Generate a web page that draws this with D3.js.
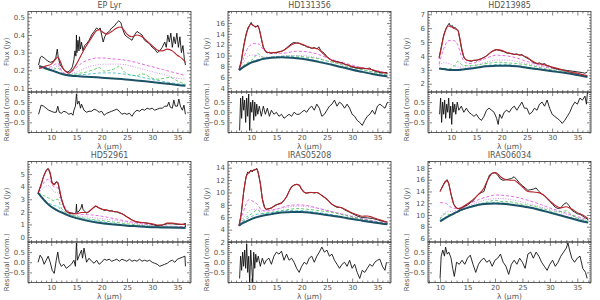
<!DOCTYPE html>
<html>
<head>
<meta charset="utf-8">
<script src="https://cdn.jsdelivr.net/npm/d3@7"></script>
<style>
body{margin:0;background:#fff}
svg text{font-family:"DejaVu Sans",sans-serif;fill:#555}
</style>
</head>
<body>
<svg id="chart" width="600" height="300"></svg>
<script>
// ---- shared axis data ----
const xTicks = [10, 15, 20, 25, 30, 35];
const resTicks = [-0.5, 0, 0.5];
const resDomain = [-1, 1];

// ---- EP Lyr ----
const epLyrObs = [[7.5,0.23],[7.8,0.27],[8.1,0.28],[8.6,0.27],[9.2,0.255],[9.8,0.245],[10.4,0.25],[10.9,0.27],[11.2,0.32],[11.4,0.27],[11.8,0.23],[12.3,0.21],[12.8,0.195],[13.3,0.19],[13.8,0.2],[14.2,0.22],[14.5,0.26],[14.7,0.31],[14.9,0.28],[15.0,0.40],[15.1,0.3],[15.3,0.37],[15.5,0.31],[15.6,0.39],[15.8,0.32],[16.0,0.36],[16.3,0.31],[16.6,0.34],[17.0,0.35],[17.5,0.37],[18.0,0.4],[18.5,0.42],[19.0,0.44],[19.4,0.43],[19.7,0.44],[20.0,0.40],[20.3,0.36],[20.6,0.39],[21.0,0.41],[21.5,0.42],[22.0,0.44],[22.5,0.45],[23.0,0.47],[23.4,0.48],[23.8,0.47],[24.2,0.43],[24.6,0.40],[25.0,0.39],[25.5,0.38],[26.0,0.37],[26.5,0.40],[27.0,0.42],[27.5,0.41],[28.0,0.40],[28.5,0.37],[29.0,0.36],[29.5,0.35],[30.0,0.33],[30.5,0.32],[31.0,0.30],[31.5,0.31],[32.0,0.33],[32.5,0.36],[32.8,0.33],[33.1,0.40],[33.4,0.36],[33.7,0.41],[34.0,0.33],[34.3,0.39],[34.6,0.35],[34.9,0.41],[35.2,0.33],[35.5,0.39],[35.8,0.30],[36.1,0.34],[36.4,0.26],[36.6,0.23]];
const epLyrModel = [[7.6,0.21],[8,0.215],[9,0.225],[10,0.235],[10.8,0.26],[11.3,0.275],[11.8,0.25],[12.3,0.215],[13,0.19],[13.5,0.185],[14,0.195],[15,0.235],[16,0.29],[17,0.34],[18,0.385],[19,0.425],[19.5,0.43],[20,0.42],[21,0.405],[22,0.42],[23,0.44],[23.7,0.445],[24.5,0.425],[25,0.405],[26,0.39],[27,0.4],[28,0.39],[29,0.365],[30,0.34],[31,0.315],[32,0.31],[33,0.32],[34,0.31],[35,0.285],[36,0.265],[36.6,0.245]];
const epLyrCont = [[7.6,0.225],[9,0.21],[10,0.2],[11,0.19],[12,0.18],[13,0.173],[14,0.169],[15,0.167],[17,0.164],[20,0.158],[23,0.152],[26,0.145],[29,0.136],[32,0.127],[35,0.117],[36.6,0.112]];
const epLyrCompA = [[7.6,0.21],[9,0.215],[10,0.22],[11.3,0.24],[12,0.2],[13,0.18],[14,0.19],[15,0.215],[16,0.24],[17,0.255],[18,0.265],[19,0.27],[20,0.27],[22,0.265],[24,0.26],[26,0.25],[28,0.235],[30,0.22],[32,0.205],[34,0.19],[36.6,0.17]];
const epLyrCompB = [[7.6,0.215],[9,0.21],[10,0.21],[11.3,0.225],[12,0.195],[13,0.175],[15,0.19],[17,0.215],[19,0.23],[21,0.235],[23,0.235],[25,0.23],[27,0.215],[29,0.2],[31,0.185],[33,0.17],[35,0.155],[36.6,0.15]];
const epLyrCompC = [[7.6,0.22],[10,0.2],[11.3,0.215],[12,0.185],[13,0.172],[14,0.175],[15,0.18],[16,0.185],[17,0.19],[18,0.2],[19,0.21],[19.5,0.215],[20.5,0.195],[21.5,0.2],[23,0.215],[23.5,0.225],[24.5,0.19],[25.5,0.175],[27,0.17],[28,0.18],[29,0.17],[30,0.155],[31,0.15],[32.5,0.155],[33.5,0.16],[35,0.14],[36.6,0.12]];
const epLyrCompD = [[7.6,0.22],[10,0.2],[12,0.18],[14,0.172],[16,0.175],[18,0.18],[20,0.185],[22,0.185],[24,0.18],[26,0.172],[28,0.16],[30,0.148],[32,0.138],[34,0.128],[36.6,0.118]];
const epLyrRes = [[7.5,-0.1],[8,0.35],[8.5,0.3],[9,0.2],[9.5,0.1],[10,0.05],[10.5,0.0],[11,0.0],[11.3,0.3],[11.6,0.0],[12,-0.05],[12.5,0.05],[13,0.0],[13.5,-0.1],[14,-0.05],[14.3,-0.15],[14.5,0.1],[14.8,0.3],[15,0.9],[15.2,0.4],[15.5,0.55],[15.8,0.2],[16,0.4],[16.5,0.1],[17,0.0],[17.5,0.05],[18,0.05],[18.5,0.15],[19,0.1],[19.5,0.0],[20,0.05],[20.5,-0.15],[21,-0.05],[21.5,0.0],[22,0.05],[22.5,0.1],[23,0.15],[23.5,0.05],[24,-0.1],[24.5,-0.05],[25,-0.1],[25.5,-0.05],[26,-0.2],[26.5,0.0],[27,0.1],[27.5,0.05],[28,0.15],[28.5,0.1],[29,0.2],[29.5,0.15],[30,0.2],[30.5,0.1],[31,0.15],[31.5,0.2],[32,0.2],[32.5,0.3],[33,0.3],[33.3,0.5],[33.6,0.25],[34,0.2],[34.3,0.6],[34.6,0.3],[35,0.3],[35.3,0.65],[35.6,0.3],[36,0.1],[36.3,0.35],[36.6,-0.1]];

// ---- HD131356 ----
const hd131Obs = [[7.6,7.4],[8,8.9],[8.5,11.8],[9,14.0],[9.4,15.2],[9.7,15.6],[10,16.1],[10.2,15.6],[10.5,15.5],[10.8,15.2],[11.1,15.4],[11.3,15.6],[11.6,14.9],[12,13.1],[12.4,11.5],[12.8,10.8],[13.2,10.5],[13.6,10.6],[14,10.4],[14.5,10.6],[15,10.5],[15.5,10.7],[16,10.8],[16.5,11.0],[17,11.4],[17.5,11.8],[18,12.2],[18.5,12.4],[19,12.3],[19.5,12.3],[20,12.0],[20.5,11.9],[21,11.6],[21.5,11.5],[22,11.3],[22.5,11.5],[23,11.2],[23.4,11.6],[23.8,10.9],[24.5,10.4],[25,9.8],[25.5,9.4],[26,9.1],[26.5,9.0],[27,8.9],[27.5,8.7],[28,8.7],[28.5,8.4],[29,8.3],[29.5,8.1],[30,7.9],[31,7.7],[32,7.6],[33,7.6],[33.5,7.7],[34,7.3],[35,7.0],[36,6.8],[36.5,6.9],[37,6.8]];
const hd131Model = [[7.6,7.5],[8,8.8],[8.5,11.5],[9,13.8],[9.5,15.2],[10,15.8],[10.5,15.5],[11,15.3],[11.3,15.4],[11.6,14.8],[12,13.2],[12.4,11.6],[12.8,10.9],[13.2,10.6],[14,10.5],[15,10.6],[16,10.8],[17,11.3],[18,12.0],[19,12.3],[20,12.1],[21,11.7],[22,11.4],[23,11.3],[24,10.6],[25,9.7],[26,9.1],[27,8.8],[28,8.6],[29,8.3],[30,8.0],[31,7.8],[32,7.7],[33,7.6],[34,7.4],[35,7.1],[36,6.9],[37,6.7]];
const hd131Cont = [[7.6,7.3],[8,7.6],[9,8.2],[10,8.7],[11,9.0],[12,9.3],[14,9.6],[16,9.7],[18,9.6],[20,9.4],[22,9.1],[24,8.7],[26,8.3],[28,7.85],[30,7.4],[32,7.0],[34,6.6],[36,6.3],[37,6.15]];
const hd131CompA = [[7.6,7.4],[8.5,9.6],[9.5,11.6],[10.5,12.2],[11.5,12.1],[12.3,11.2],[13,10.6],[14,10.4],[15,10.4],[17,10.5],[19,10.8],[21,10.7],[23,10.3],[25,9.6],[27,9.0],[29,8.5],[31,8.0],[33,7.6],[35,7.2],[37,6.8]];
const hd131CompB = [[7.6,7.4],[8.5,8.8],[9.5,10.0],[10.5,10.1],[11.5,9.9],[12.5,9.7],[14,9.8],[16,9.9],[18,10.0],[20,10.0],[22,9.8],[24,9.3],[26,8.8],[28,8.3],[30,7.8],[32,7.4],[34,7.0],[37,6.5]];
const hd131CompC = [[7.6,7.35],[8.5,8.2],[9.5,8.8],[10.5,9.5],[11.3,10.4],[12,9.8],[13,9.6],[15,9.8],[17,9.9],[19,9.9],[21,9.7],[23,9.5],[25,9.0],[27,8.6],[29,8.0],[31,7.6],[33,7.2],[35,6.8],[37,6.4]];
const hd131CompD = [[7.6,7.35],[9,8.3],[10,8.8],[12,9.4],[14,9.7],[16,9.8],[18,9.75],[20,9.55],[22,9.25],[24,8.85],[26,8.4],[28,7.95],[30,7.5],[32,7.1],[34,6.7],[37,6.2]];
const hd131Res = [[7.7,-0.9],[7.9,0.7],[8.1,-0.3],[8.3,0.8],[8.5,0.1],[8.7,0.6],[8.9,-0.5],[9.1,0.7],[9.3,-0.2],[9.5,0.9],[9.7,-0.9],[9.9,0.5],[10.1,0.0],[10.3,0.6],[10.5,-0.4],[10.7,0.5],[10.9,-0.2],[11.1,0.4],[11.3,-0.1],[11.6,0.3],[12,-0.2],[12.4,0.3],[12.8,-0.1],[13.2,0.2],[13.6,-0.2],[14,0.1],[14.5,-0.1],[15,0.0],[15.5,-0.2],[16,-0.1],[16.5,-0.3],[17,-0.2],[17.5,-0.1],[18,-0.2],[18.5,0.0],[19,-0.1],[19.5,-0.1],[20,0.0],[20.5,0.1],[21,0.0],[21.5,0.2],[22,0.3],[22.5,0.1],[23,0.4],[23.5,0.2],[24,-0.2],[24.5,-0.1],[25,0.1],[25.5,0.3],[26,0.4],[26.5,0.6],[27,0.3],[27.5,0.5],[28,0.4],[28.5,0.2],[29,0.4],[29.5,0.2],[30,-0.1],[30.5,-0.2],[31,-0.4],[31.5,-0.5],[32,-0.65],[32.5,-0.4],[33,-0.2],[33.5,-0.1],[34,0.1],[34.5,-0.1],[35,0.3],[35.5,0.4],[36,0.3],[36.5,0.2],[37,0.5]];

// ---- HD213985 ----
const hd213Obs = [[7.6,3.9],[8,4.6],[8.5,5.5],[9,6.0],[9.3,6.2],[9.6,6.35],[9.9,6.1],[10.2,6.2],[10.5,6.0],[10.8,6.05],[11.1,5.9],[11.4,5.8],[11.7,5.2],[12.1,4.4],[12.5,3.9],[13,3.7],[13.5,3.65],[14,3.6],[14.5,3.7],[15,3.65],[15.5,3.75],[16,3.8],[16.5,3.9],[17,4.0],[17.5,4.15],[18,4.3],[18.5,4.4],[19,4.45],[19.5,4.4],[20,4.35],[20.5,4.3],[21,4.2],[21.5,4.2],[22,4.15],[22.5,4.1],[23,4.15],[23.5,4.05],[24,4.1],[24.5,3.95],[25,3.85],[25.5,3.75],[26,3.6],[26.5,3.5],[27,3.45],[27.5,3.5],[28,3.4],[28.5,3.45],[29,3.3],[29.5,3.25],[30,3.15],[31,3.05],[32,3.0],[33,2.95],[34,2.9],[35,2.85],[36,2.8],[36.5,2.75],[37,2.85]];
const hd213Model = [[7.6,3.8],[8,4.5],[8.5,5.4],[9,5.95],[9.5,6.15],[10,6.1],[10.5,6.0],[11,5.9],[11.3,5.85],[11.7,5.3],[12.1,4.5],[12.5,3.95],[13,3.7],[14,3.65],[15,3.7],[16,3.8],[17,4.0],[18,4.3],[19,4.45],[20,4.4],[21,4.25],[22,4.15],[23,4.1],[24,4.05],[25,3.9],[26,3.65],[27,3.45],[28,3.4],[29,3.3],[30,3.2],[31,3.1],[32,3.0],[33,2.9],[34,2.8],[35,2.75],[36,2.65],[37,2.55]];
const hd213Cont = [[7.6,3.1],[8,3.08],[9,3.02],[10,2.98],[11,2.98],[12,3.0],[13,3.05],[15,3.15],[17,3.25],[19,3.3],[21,3.3],[23,3.25],[25,3.15],[27,3.05],[29,2.95],[31,2.85],[33,2.75],[35,2.62],[37,2.48]];
const hd213CompA = [[7.6,3.4],[8.5,4.5],[9.5,5.1],[10.5,5.1],[11.3,4.8],[12,4.0],[13,3.5],[14,3.45],[15,3.55],[17,3.85],[19,4.05],[21,4.0],[23,3.85],[25,3.6],[27,3.4],[29,3.2],[31,3.05],[33,2.9],[35,2.75],[37,2.6]];
const hd213CompB = [[7.6,3.3],[8.5,3.5],[9.5,3.45],[10.5,3.3],[11.5,3.2],[13,3.2],[15,3.35],[17,3.55],[19,3.7],[21,3.7],[23,3.6],[25,3.45],[27,3.3],[29,3.15],[31,3.0],[33,2.85],[35,2.7],[37,2.55]];
const hd213CompC = [[7.6,3.1],[9,3.05],[10,3.1],[10.8,3.35],[11.3,3.6],[11.8,3.45],[12.5,3.3],[14,3.3],[16,3.4],[18,3.5],[19.5,3.55],[21,3.5],[23,3.45],[25,3.35],[27,3.2],[29,3.05],[31,2.95],[33,2.85],[35,2.7],[37,2.55]];
const hd213CompD = [[7.6,3.1],[9,3.05],[10,3.0],[12,3.05],[14,3.15],[16,3.25],[18,3.35],[20,3.4],[22,3.35],[24,3.25],[26,3.15],[28,3.0],[30,2.9],[32,2.8],[34,2.7],[37,2.5]];
const hd213Res = [[7.7,-0.1],[7.9,0.7],[8.1,-0.5],[8.3,0.5],[8.5,-0.1],[8.7,0.6],[8.9,-0.3],[9.1,0.4],[9.3,0.0],[9.5,0.7],[9.7,-0.3],[9.9,0.3],[10.1,-0.6],[10.3,0.5],[10.5,0.0],[10.7,0.4],[10.9,-0.1],[11.2,0.5],[11.5,0.1],[12,0.3],[12.5,0.0],[13,0.2],[13.5,0.0],[14,-0.1],[14.5,-0.2],[15,-0.1],[15.5,-0.3],[16,-0.4],[16.5,-0.2],[17,0.1],[17.5,0.2],[18,0.1],[18.5,0.0],[19,-0.3],[19.3,-0.6],[19.6,-0.1],[20,-0.3],[20.5,0.0],[21,0.1],[21.5,0.0],[22,0.2],[22.5,0.3],[23,0.1],[23.5,0.3],[24,0.5],[24.5,0.2],[25,0.2],[25.5,-0.1],[26,0.0],[26.5,0.2],[27,0.1],[27.5,0.4],[28,0.5],[28.5,0.3],[29,0.6],[29.5,0.2],[30,-0.1],[30.5,-0.2],[31,-0.3],[31.5,-0.4],[32,-0.55],[32.5,-0.4],[33,-0.2],[33.5,0.0],[34,0.3],[34.5,0.5],[35,0.4],[35.5,0.7],[36,0.6],[36.5,0.8],[36.8,0.4],[37,1.0]];

// ---- HD52961 ----
const hd529Obs = [[7.4,3.45],[8,4.15],[8.5,4.85],[9,5.3],[9.4,5.45],[9.8,5.0],[10.2,4.25],[10.6,4.2],[11,4.4],[11.3,4.35],[11.7,3.6],[12,3.05],[12.5,2.4],[13,2.0],[13.5,1.95],[14,1.9],[14.5,1.85],[14.9,1.9],[15.0,2.6],[15.1,1.95],[15.5,2.05],[15.9,2.3],[16.1,2.6],[16.3,2.2],[16.7,2.0],[17,1.9],[17.5,2.0],[18,2.2],[18.8,2.45],[19.5,2.3],[20,2.25],[20.5,2.1],[21,2.15],[21.5,2.05],[22,2.1],[22.5,2.0],[23,2.0],[23.5,1.9],[24,1.85],[24.5,1.75],[25,1.6],[25.5,1.5],[26,1.35],[26.5,1.25],[27,1.2],[27.5,1.15],[28,1.15],[29,1.1],[30,1.0],[31,0.9],[32,0.95],[33,1.05],[34,1.05],[35,1.0],[36,1.0],[36.5,1.05],[36.55,1.1],[36.6,0.78]];
const hd529Model = [[7.4,3.5],[8,4.2],[8.5,4.8],[9,5.25],[9.4,5.4],[9.8,5.1],[10.2,4.3],[10.6,4.15],[11,4.35],[11.3,4.3],[11.7,3.7],[12,3.1],[12.5,2.45],[13,2.05],[14,1.85],[15,1.85],[16,1.95],[17,1.95],[18,2.2],[18.8,2.45],[19.5,2.3],[20,2.2],[21,2.15],[22,2.05],[23,2.0],[24,1.85],[25,1.6],[26,1.35],[27,1.2],[28,1.15],[29,1.1],[30,1.05],[31,0.95],[32,0.95],[33,1.1],[34,1.1],[35,1.05],[36,1.0],[36.6,1.0]];
const hd529Cont = [[7.4,3.5],[8,3.2],[9,2.75],[10,2.4],[11,2.15],[12,1.95],[13,1.78],[14,1.62],[15,1.5],[17,1.3],[19,1.15],[21,1.05],[23,0.97],[25,0.9],[27,0.85],[29,0.8],[31,0.77],[33,0.75],[35,0.73],[36.6,0.72]];
const hd529CompA = [[7.4,3.5],[8.5,4.3],[9.5,4.6],[10.5,4.0],[11.3,3.9],[12,3.0],[13,2.2],[14,1.95],[16,1.8],[18,1.75],[20,1.65],[22,1.5],[25,1.25],[28,1.05],[31,0.9],[34,0.85],[36.6,0.82]];
const hd529CompB = [[7.4,3.5],[8.5,3.9],[9.5,4.1],[10.5,3.6],[11.3,3.5],[12,2.7],[13,2.1],[14,1.85],[16,1.65],[18,1.55],[20,1.45],[23,1.3],[26,1.1],[30,0.9],[36.6,0.8]];
const hd529CompC = [[7.4,3.5],[8.5,3.3],[9.5,3.1],[10.5,2.9],[11.3,3.0],[12,2.3],[13,1.9],[15,1.65],[17,1.45],[19,1.35],[21,1.25],[23,1.15],[26,1.0],[30,0.85],[36.6,0.78]];
const hd529CompD = [[7.4,3.5],[9,2.85],[10.5,2.5],[11.3,2.45],[12,2.1],[14,1.7],[17,1.4],[20,1.2],[25,0.95],[30,0.82],[36.6,0.75]];
const hd529Res = [[7.4,0.0],[7.8,0.35],[8.2,0.2],[8.6,-0.1],[9,0.1],[9.4,0.3],[9.8,0.0],[10.2,-0.4],[10.6,-0.55],[11,0.1],[11.3,0.5],[11.6,0.0],[12,-0.2],[12.5,-0.1],[13,-0.3],[13.5,-0.2],[14,-0.1],[14.5,0.1],[14.8,-0.2],[15,0.95],[15.2,0.1],[15.5,0.3],[16,0.6],[16.2,0.2],[16.5,0.7],[17,0.0],[17.5,0.2],[18,0.05],[18.5,-0.05],[19,0.1],[19.5,-0.1],[20,0.0],[20.5,0.15],[21,0.1],[21.5,0.15],[22,0.05],[22.5,0.1],[23,0.15],[23.5,0.05],[24,0.15],[24.5,0.1],[25,0.05],[25.5,0.15],[26,0.05],[26.5,0.1],[27,0.05],[27.5,0.15],[28,0.05],[28.5,0.1],[29,0.05],[29.5,0.1],[30,0.0],[30.5,-0.05],[31,-0.1],[31.5,-0.2],[32,-0.15],[32.5,-0.1],[33,-0.05],[33.5,0.05],[34,0.1],[34.5,0.0],[35,0.15],[35.5,0.2],[36,0.25],[36.5,0.3],[36.6,-0.2]];

// ---- IRAS05208 ----
const ir052Obs = [[7.6,4.7],[8,6.4],[8.5,10.1],[9,12.6],[9.3,13.3],[9.6,13.1],[9.9,13.6],[10.2,13.3],[10.5,13.7],[10.8,13.6],[11.1,13.9],[11.3,13.5],[11.8,11.4],[12.2,9.0],[12.7,7.5],[13,7.3],[13.5,7.4],[14,7.5],[14.5,7.8],[15,8.0],[15.5,8.2],[16,8.3],[16.5,8.7],[17,9.3],[17.5,10.2],[18,10.9],[18.5,11.2],[19,11.3],[19.5,11.2],[20,10.5],[20.5,10.0],[21,9.9],[21.5,10.0],[22,10.0],[22.5,9.9],[23,10.0],[23.5,9.8],[24,9.5],[24.5,9.2],[25,8.9],[25.5,8.5],[26,8.1],[26.5,7.8],[27,7.6],[27.5,7.6],[28,7.5],[28.5,7.2],[29,7.0],[29.5,6.8],[30,6.6],[31,6.2],[32,5.95],[33,5.9],[34,5.8],[35,5.6],[36,5.35],[37,5.2]];
const ir052Model = [[7.6,4.7],[8,6.5],[8.5,10.0],[9,12.5],[9.5,13.2],[10,13.5],[10.5,13.6],[11,13.8],[11.3,13.4],[11.8,11.5],[12.2,9.0],[12.7,7.5],[13,7.3],[14,7.5],[15,8.0],[16,8.3],[17,9.3],[18,10.9],[19,11.3],[19.5,11.2],[20,10.5],[21,9.9],[22,10.0],[23,10.0],[24,9.5],[25,8.9],[26,8.1],[27,7.7],[28,7.5],[29,7.1],[30,6.7],[31,6.4],[32,6.15],[33,6.2],[34,6.0],[35,5.7],[36,5.45],[37,5.2]];
const ir052Cont = [[7.6,4.6],[8,4.9],[9,5.3],[10,5.7],[12,6.2],[14,6.5],[16,6.75],[18,6.85],[20,6.85],[22,6.7],[24,6.5],[26,6.25],[28,6.0],[30,5.7],[32,5.45],[34,5.2],[36,4.95],[37,4.85]];
const ir052CompA = [[7.6,4.7],[8.5,7.0],[9.5,8.8],[10.5,8.5],[11.3,8.0],[12,7.2],[13,7.0],[15,7.3],[17,7.8],[19,8.0],[21,7.9],[23,7.5],[25,7.1],[27,6.7],[29,6.3],[31,5.9],[33,5.6],[35,5.3],[37,5.0]];
const ir052CompB = [[7.6,4.7],[9,6.5],[10,7.2],[11.3,7.3],[12,7.0],[14,7.2],[17,7.6],[19,7.8],[21,7.7],[24,7.3],[27,6.7],[30,6.2],[33,5.6],[37,5.0]];
const ir052CompC = [[7.6,4.7],[9,6.0],[10,6.5],[11.3,7.2],[12,6.6],[14,6.8],[17,7.2],[19,7.4],[21,7.3],[23,7.1],[25,6.9],[27,6.6],[29,6.2],[33,5.5],[37,4.95]];
const ir052CompD = [[7.6,4.65],[9,5.7],[10,6.1],[11.3,6.5],[13,6.6],[16,7.0],[19,7.1],[22,6.9],[26,6.4],[30,5.8],[37,4.9]];
const ir052Res = [[7.7,-0.8],[7.9,0.3],[8.1,-0.4],[8.3,0.5],[8.5,-0.2],[8.7,0.6],[8.9,-0.3],[9.1,0.9],[9.3,-0.5],[9.5,0.3],[9.7,-1.05],[9.9,0.6],[10.1,-0.2],[10.3,-1.05],[10.5,0.5],[10.7,-0.3],[10.9,0.4],[11.1,0.0],[11.4,0.3],[11.8,-0.2],[12.2,0.2],[12.6,-0.1],[13,0.1],[13.5,0.2],[14,-0.1],[14.5,0.3],[15,0.5],[15.5,0.4],[16,0.55],[16.5,0.1],[17,0.4],[17.5,0.1],[18,0.2],[18.5,0.0],[19,-0.3],[19.5,-0.5],[20,-0.2],[20.5,0.0],[21,-0.1],[21.5,0.2],[22,0.3],[22.5,0.0],[23,0.3],[23.5,0.5],[24,0.75],[24.5,0.5],[25,0.6],[25.5,0.3],[26,0.4],[26.5,0.1],[27,-0.1],[27.5,-0.3],[28,-0.1],[28.5,0.0],[29,-0.2],[29.5,0.1],[30,-0.3],[30.5,-0.1],[31,-0.5],[31.5,-0.8],[32,-0.4],[32.5,-0.5],[33,-0.3],[33.5,-0.1],[34,-0.2],[34.5,0.0],[35,0.1],[35.5,0.15],[36,-0.2],[36.5,-0.4],[36.8,0.0]];

// ---- IRAS06034 ----
const ir060Obs = [[10,14.0],[10.5,15.0],[11,15.8],[11.3,16.0],[11.6,15.3],[12,13.5],[12.5,11.8],[13,11.2],[13.5,11.0],[14,11.2],[15,11.7],[15.5,12.1],[16,12.4],[16.5,13.0],[17,13.5],[17.5,13.8],[18,14.0],[18.5,15.5],[19,16.8],[19.5,17.1],[20,17.2],[20.5,16.8],[21,16.1],[21.5,15.9],[22,16.0],[22.5,16.1],[23,16.2],[23.5,16.5],[24,16.0],[24.5,15.4],[25,15.0],[25.5,14.6],[26,14.2],[26.5,14.3],[27,14.4],[27.5,14.6],[28,14.0],[28.5,13.6],[29,13.3],[29.5,12.8],[30,12.3],[30.5,11.8],[31,11.3],[31.5,11.1],[32,11.2],[32.5,11.8],[33,12.1],[33.5,11.6],[34,10.8],[34.5,10.5],[35,10.2],[35.5,10.1],[36,9.8],[36.5,9.5],[37,9.2]];
const ir060Model = [[10,14.0],[10.5,14.9],[11,15.7],[11.3,15.8],[11.6,15.2],[12,13.5],[12.5,11.8],[13,11.2],[13.5,11.1],[14,11.3],[15,11.9],[16,12.6],[17,13.5],[18,14.6],[18.5,15.6],[19,16.5],[19.5,17.1],[20,17.2],[20.5,17.0],[21,16.5],[22,16.0],[23,15.9],[23.5,15.9],[24,15.6],[25,14.8],[26,14.0],[27,13.9],[28,13.8],[29,13.3],[30,12.4],[31,11.6],[32,11.2],[33,11.4],[34,11.0],[35,10.4],[36,10.0],[37,9.4]];
const ir060Cont = [[10,8.9],[11,9.5],[12,10.0],[14,10.9],[16,11.5],[18,11.85],[20,11.95],[22,11.85],[24,11.6],[26,11.3],[28,10.9],[30,10.4],[32,9.9],[34,9.4],[36,8.9],[37,8.7]];
const ir060CompA = [[10,12.1],[11,12.0],[12,11.3],[13,11.1],[15,11.8],[17,12.6],[19,13.2],[20,13.4],[22,13.3],[24,13.0],[26,12.5],[28,11.9],[30,11.2],[32,10.6],[34,10.0],[37,9.2]];
const ir060CompB = [[10,9.5],[11,10.5],[12,10.6],[13,10.8],[15,11.5],[17,12.2],[19,12.7],[21,12.8],[23,12.6],[25,12.2],[27,11.7],[29,11.2],[31,10.7],[33,10.1],[35,9.5],[37,9.0]];
const ir060CompC = [[10,9.3],[11,10.2],[12,10.0],[13,10.4],[15,11.2],[17,11.8],[19,12.3],[20,12.5],[21,12.3],[23,12.2],[25,11.8],[27,11.5],[29,11.0],[31,10.5],[33,10.7],[34,10.0],[37,8.9]];
const ir060CompD = [[10,9.1],[12,10.1],[14,10.9],[16,11.6],[18,12.0],[20,12.1],[22,12.0],[24,11.7],[26,11.4],[28,11.0],[30,10.5],[32,10.0],[34,9.5],[37,8.8]];
const ir060Res = [[10,-0.8],[10.2,0.3],[10.5,0.6],[10.8,0.3],[11,0.75],[11.3,0.4],[11.6,0.5],[12,0.2],[12.3,-0.3],[12.6,-0.7],[13,0.0],[13.5,-0.1],[14,0.1],[14.5,-0.1],[15,0.2],[15.5,0.35],[16,-0.1],[16.5,-0.5],[17,-0.1],[17.5,0.1],[18,0.2],[18.5,0.0],[19,0.1],[19.5,-0.2],[20,0.1],[20.5,0.2],[21,0.4],[21.5,0.0],[22,-0.2],[22.5,-0.6],[23,-0.1],[23.5,0.1],[24,-0.1],[24.5,0.2],[25,0.0],[25.5,-0.3],[26,0.4],[26.5,0.5],[27,0.2],[27.5,0.5],[28,0.3],[28.5,0.0],[29,-0.2],[29.5,-0.4],[30,-0.1],[30.5,0.1],[31,-0.2],[31.5,0.0],[32,0.3],[32.5,0.5],[33,0.7],[33.3,0.95],[33.6,0.6],[34,0.2],[34.5,0.0],[35,0.2],[35.5,0.3],[36,-0.3],[36.5,-0.5],[36.8,-0.8]];

// ---- panel list ----
const panels = [
  {title: "EP Lyr", xDomain: [5.4, 37.7], yDomain: [0.077, 0.533], yTicks: [0.1, 0.2, 0.3, 0.4, 0.5], yMinor: 0.02, yFmt: ".1f",
   obs: epLyrObs, model: epLyrModel, cont: epLyrCont, comps: [epLyrCompA, epLyrCompB, epLyrCompC, epLyrCompD], res: epLyrRes},
  {title: "HD131356", xDomain: [5.4, 37.7], yDomain: [3.3, 18.1], yTicks: [4, 6, 8, 10, 12, 14, 16], yMinor: 0.5, yFmt: "d",
   obs: hd131Obs, model: hd131Model, cont: hd131Cont, comps: [hd131CompA, hd131CompB, hd131CompC, hd131CompD], res: hd131Res},
  {title: "HD213985", xDomain: [5.4, 37.7], yDomain: [1.4, 7.2], yTicks: [2, 3, 4, 5, 6, 7], yMinor: 0.2, yFmt: "d",
   obs: hd213Obs, model: hd213Model, cont: hd213Cont, comps: [hd213CompA, hd213CompB, hd213CompC, hd213CompD], res: hd213Res},
  {title: "HD52961", xDomain: [5.4, 37.7], yDomain: [-0.4, 6], yTicks: [0, 1, 2, 3, 4, 5], yMinor: 0.2, yFmt: "d",
   obs: hd529Obs, model: hd529Model, cont: hd529Cont, comps: [hd529CompA, hd529CompB, hd529CompC, hd529CompD], res: hd529Res},
  {title: "IRAS05208", xDomain: [5.4, 37.7], yDomain: [2, 15], yTicks: [2, 4, 6, 8, 10, 12, 14], yMinor: 0.5, yFmt: "d",
   obs: ir052Obs, model: ir052Model, cont: ir052Cont, comps: [ir052CompA, ir052CompB, ir052CompC, ir052CompD], res: ir052Res},
  {title: "IRAS06034", xDomain: [7.8, 37.5], yDomain: [5.4, 19.1], yTicks: [6, 8, 10, 12, 14, 16, 18], yMinor: 0.5, yFmt: "d",
   obs: ir060Obs, model: ir060Model, cont: ir060Cont, comps: [ir060CompA, ir060CompB, ir060CompC, ir060CompD], res: ir060Res}
];

// ---- layout / style ----
const W = 163, FH = 80.5, RH = 40.5;
const colX = [28, 228, 428], rowY = [11.5, 161.5];
const compStyle = [
  {color: "#e048d8", dash: "3,2"},
  {color: "#c27be6", dash: "1,1.5"},
  {color: "#3cc048", dash: "3,2"},
  {color: "#2fb6c6", dash: "3,2"}
];

const svg = d3.select("#chart");

// ticks on all four sides, pointing in, like the IDL box
function frame(g, x, y, top, h, yTicks, yMinor, yFmt, xLabels) {
  const a = g.append("g").attr("transform", `translate(0,${top})`);
  const xd = x.domain(), yd = y.domain();
  const xMinor = d3.range(Math.ceil(xd[0]), xd[1], 1).filter(v => v % 5 !== 0);
  const yMin = d3.range(Math.ceil(yd[0] / yMinor) * yMinor, yd[1], yMinor)
    .filter(v => !yTicks.some(t => Math.abs(t - v) < yMinor / 10));
  const yy = y.copy().range([h, 0]);
  const fmt = d3.format(yFmt);

  const parts = [
    [d3.axisBottom(x).tickValues(xTicks).tickSize(-4).tickPadding(3).tickFormat(xLabels ? d3.format("d") : ""), `translate(0,${h})`],
    [d3.axisBottom(x).tickValues(xMinor).tickSize(-2).tickFormat(""), `translate(0,${h})`],
    [d3.axisTop(x).tickValues(xTicks).tickSize(-4).tickFormat(""), null],
    [d3.axisTop(x).tickValues(xMinor).tickSize(-2).tickFormat(""), null],
    [d3.axisLeft(yy).tickValues(yTicks).tickSize(-4).tickPadding(3).tickFormat(fmt), null],
    [d3.axisLeft(yy).tickValues(yMin).tickSize(-2).tickFormat(""), null],
    [d3.axisRight(yy).tickValues(yTicks).tickSize(-4).tickFormat(""), `translate(${W},0)`],
    [d3.axisRight(yy).tickValues(yMin).tickSize(-2).tickFormat(""), `translate(${W},0)`]
  ];
  parts.forEach(([ax, tr]) => {
    const s = a.append("g").attr("transform", tr).call(ax);
    s.select(".domain").remove();
    s.attr("font-size", 7).attr("font-family", null).attr("color", "#333");
    s.selectAll("line").attr("stroke-width", 0.6);
  });
  a.append("rect").attr("width", W).attr("height", h)
    .attr("fill", "none").attr("stroke", "#333").attr("stroke-width", 0.8);
}

panels.forEach((p, i) => {
  const g = svg.append("g")
    .attr("transform", `translate(${colX[i % 3]},${rowY[Math.floor(i / 3)]})`);
  const x = d3.scaleLinear().domain(p.xDomain).range([0, W]);
  const yF = d3.scaleLinear().domain(p.yDomain).range([FH, 0]);
  const yR = d3.scaleLinear().domain(resDomain).range([FH + RH, FH]);

  g.append("clipPath").attr("id", "cf" + i)
    .append("rect").attr("width", W).attr("height", FH);
  g.append("clipPath").attr("id", "cr" + i)
    .append("rect").attr("y", FH).attr("width", W).attr("height", RH);

  const smooth = d3.line().x(d => x(d[0])).y(d => yF(d[1])).curve(d3.curveMonotoneX);
  const raw = d3.line().x(d => x(d[0])).y(d => yF(d[1]));
  const resLine = d3.line().x(d => x(d[0])).y(d => yR(d[1]));

  const fl = g.append("g").attr("clip-path", `url(#cf${i})`).attr("fill", "none");
  p.comps.forEach((c, k) => {
    fl.append("path").datum(c).attr("d", smooth)
      .attr("stroke", compStyle[k].color).attr("stroke-width", 0.8)
      .attr("stroke-dasharray", compStyle[k].dash);
  });
  fl.append("path").datum(p.cont).attr("d", smooth)
    .attr("stroke", "#1d5266").attr("stroke-width", 2);
  fl.append("path").datum(p.obs).attr("d", raw)
    .attr("stroke", "#111").attr("stroke-width", 0.9);
  fl.append("path").datum(p.model).attr("d", smooth)
    .attr("stroke", "#b8222a").attr("stroke-width", 1.1);

  g.append("g").attr("clip-path", `url(#cr${i})`)
    .append("path").datum(p.res).attr("d", resLine)
    .attr("fill", "none").attr("stroke", "#111").attr("stroke-width", 0.9);

  frame(g, x, yF, 0, FH, p.yTicks, p.yMinor, p.yFmt, false);
  frame(g, x, yR, FH, RH, resTicks, 0.1, ".1f", true);

  g.append("text").attr("x", W / 2).attr("y", -3.5)
    .attr("text-anchor", "middle").attr("font-size", 8).text(p.title);
  g.append("text").attr("transform", `translate(-19,${FH / 2}) rotate(-90)`)
    .attr("text-anchor", "middle").attr("font-size", 7).text("Flux (Jy)");
  g.append("text").attr("transform", `translate(-19,${FH + RH / 2}) rotate(-90)`)
    .attr("text-anchor", "middle").attr("font-size", 7).text("Residual (norm.)");
  g.append("text").attr("x", W / 2).attr("y", FH + RH + 16)
    .attr("text-anchor", "middle").attr("font-size", 7.5).text("λ (μm)");
});
</script>
</body>
</html>
